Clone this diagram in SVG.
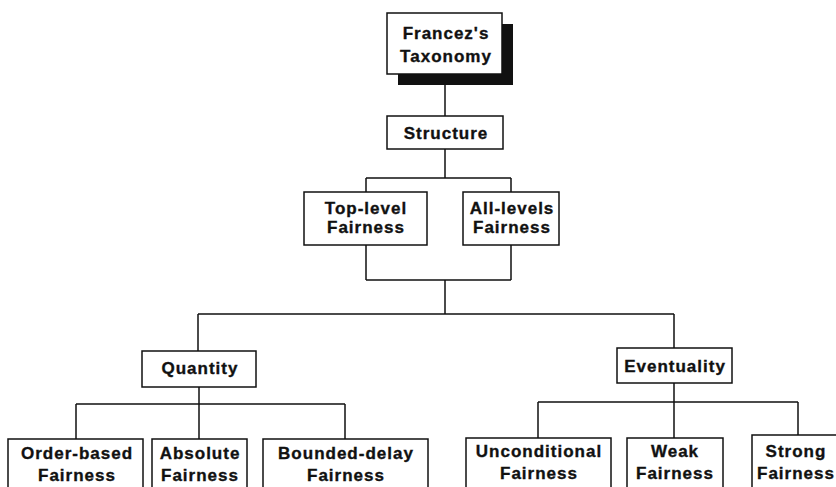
<svg xmlns="http://www.w3.org/2000/svg" width="836" height="487" viewBox="0 0 836 487">
  <style>
    .box { fill: #ffffff; stroke: #111111; stroke-width: 1.5; }
    .shadow { fill: #111111; }
    .lbl { font-family: "Liberation Sans", Arial, sans-serif; font-weight: bold; font-size: 17px; letter-spacing: 1px; fill: #111111; stroke: #111111; stroke-width: 0.35; text-anchor: middle; }
    .wire { fill: none; stroke: #111111; stroke-width: 1.5; }
  </style>
  <rect x="0" y="0" width="836" height="487" fill="#ffffff"/>

  <!-- connectors -->
  <g id="connectors" class="wire">
    <path d="M445,74 V116"/>
    <path d="M445,149 V178 M366,178 H511 M366,178 V192 M511,178 V192"/>
    <path d="M366,245 V280 M511,245 V280 M366,280 H511 M445,280 V314"/>
    <path d="M198,314 H674 M198,314 V351 M674,314 V348"/>
    <path d="M199,387 V404 M76,404 H345 M76,404 V439 M199,404 V439 M345,404 V439"/>
    <path d="M674,383 V402 M538,402 H798 M538,402 V438 M674,402 V438 M798,402 V435"/>
  </g>

  <g id="taxonomy">
    <rect class="shadow" x="398" y="24" width="115" height="61"/>
    <rect class="box" x="387" y="13" width="115" height="61"/>
    <text class="lbl" x="446" y="39">Francez's</text>
    <text class="lbl" x="446" y="62">Taxonomy</text>
  </g>

  <g id="structure">
    <rect class="box" x="387" y="116" width="116" height="33"/>
    <text class="lbl" x="446" y="139">Structure</text>
  </g>

  <g id="top-level">
    <rect class="box" x="304" y="192" width="123" height="53"/>
    <text class="lbl" x="366" y="214">Top-level</text>
    <text class="lbl" x="366" y="233">Fairness</text>
  </g>

  <g id="all-levels">
    <rect class="box" x="463" y="192" width="96" height="53"/>
    <text class="lbl" x="512" y="214">All-levels</text>
    <text class="lbl" x="512" y="233">Fairness</text>
  </g>

  <g id="quantity">
    <rect class="box" x="142" y="351" width="114" height="36"/>
    <text class="lbl" x="200" y="374">Quantity</text>
  </g>

  <g id="eventuality">
    <rect class="box" x="617" y="348" width="115" height="35"/>
    <text class="lbl" x="675" y="372">Eventuality</text>
  </g>

  <g id="order-based">
    <rect class="box" x="8" y="439" width="135" height="60"/>
    <text class="lbl" x="77" y="459">Order-based</text>
    <text class="lbl" x="77" y="481">Fairness</text>
  </g>

  <g id="absolute">
    <rect class="box" x="152" y="439" width="95" height="60"/>
    <text class="lbl" x="200" y="459">Absolute</text>
    <text class="lbl" x="200" y="481">Fairness</text>
  </g>

  <g id="bounded-delay">
    <rect class="box" x="263" y="439" width="165" height="60"/>
    <text class="lbl" x="346" y="459">Bounded-delay</text>
    <text class="lbl" x="346" y="481">Fairness</text>
  </g>

  <g id="unconditional">
    <rect class="box" x="466" y="438" width="145" height="60"/>
    <text class="lbl" x="539" y="457">Unconditional</text>
    <text class="lbl" x="539" y="479">Fairness</text>
  </g>

  <g id="weak">
    <rect class="box" x="627" y="438" width="96" height="60"/>
    <text class="lbl" x="675" y="457">Weak</text>
    <text class="lbl" x="675" y="479">Fairness</text>
  </g>

  <g id="strong">
    <rect class="box" x="752" y="435" width="100" height="60"/>
    <text class="lbl" x="796" y="457">Strong</text>
    <text class="lbl" x="796" y="479">Fairness</text>
  </g>
</svg>
